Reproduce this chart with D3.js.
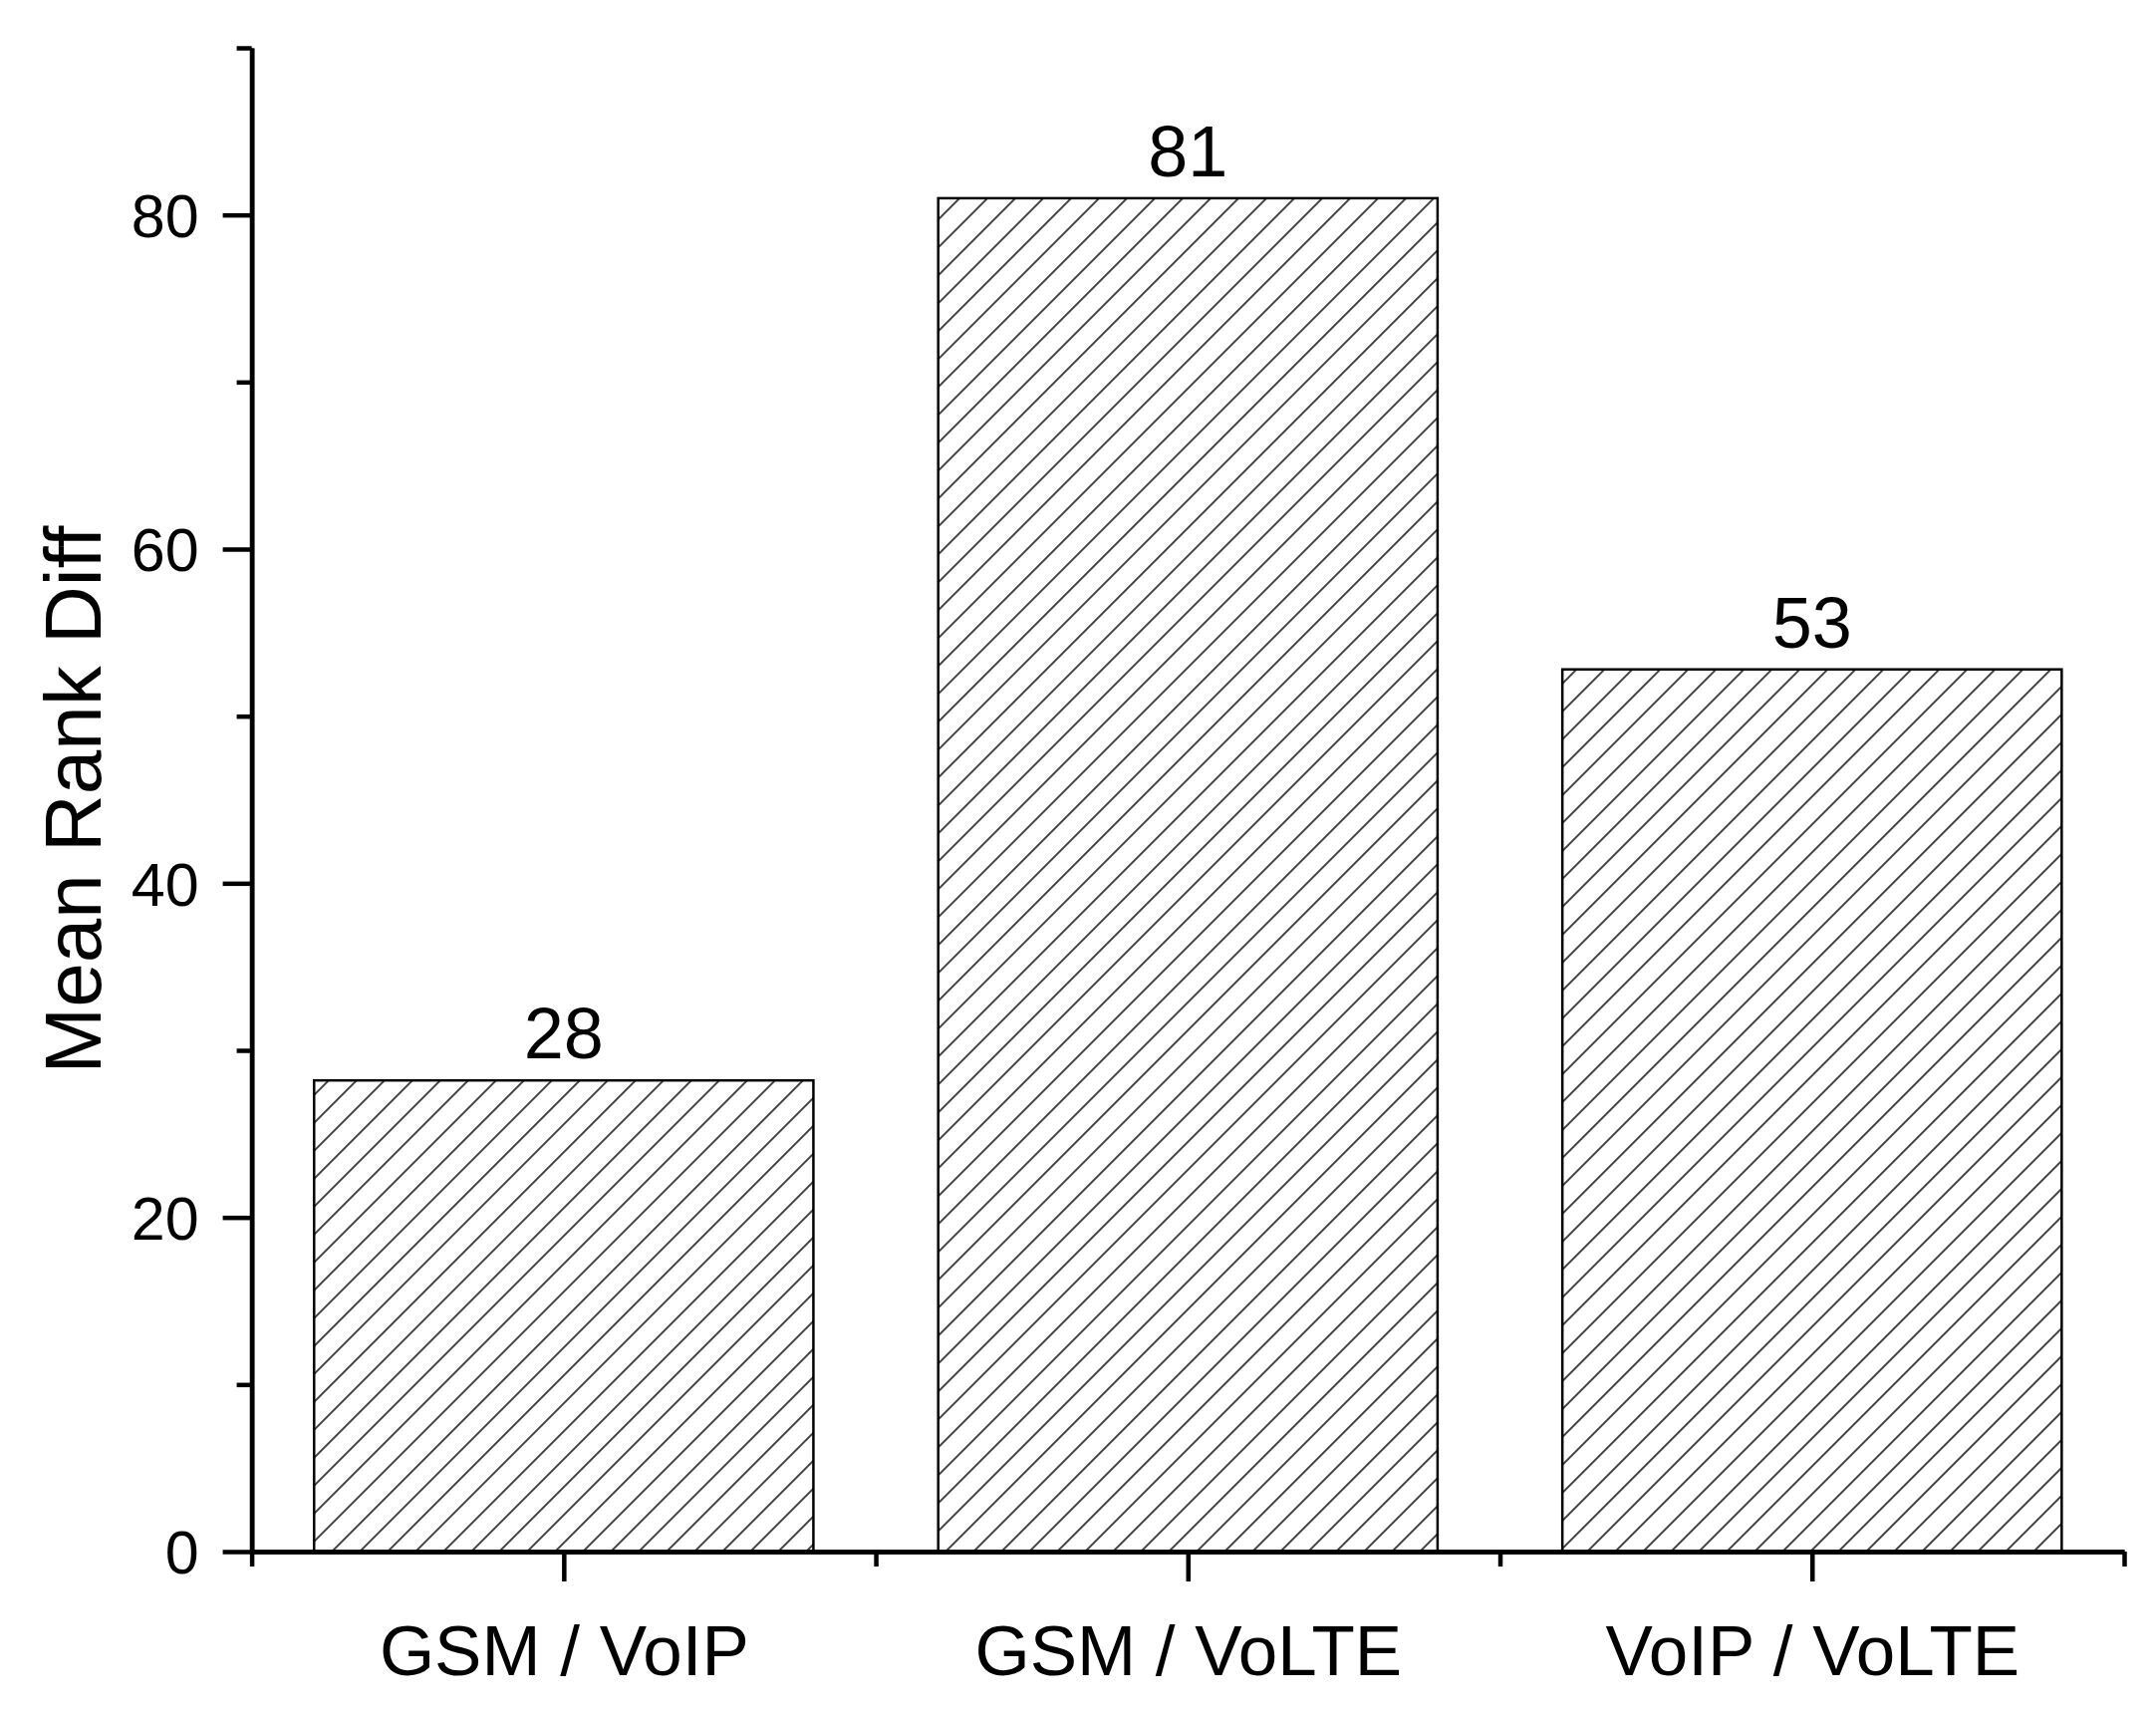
<!DOCTYPE html>
<html>
<head>
<meta charset="utf-8">
<script src="https://d3js.org/d3.v7.min.js"></script>
<style>
  body { margin: 0; background: #fff; }
  text { font-family: "Liberation Sans", Arial, sans-serif; fill: #000; }
</style>
</head>
<body>
<div id="viz"></div>
<script>
// data
var categories = ["GSM / VoIP", "GSM / VoLTE", "VoIP / VoLTE"];
var values = [28.2, 81.0, 52.8];
var valueLabels = ["28", "81", "53"];
var majorTicks = [0, 20, 40, 60, 80];
var minorTicks = [10, 30, 50, 70, 90];

var W = 2164, H = 1720;
var plotLeft = 252.6, plotRight = 2132, plotTop = 48, plotBottom = 1557;

var svg = d3.select("#viz").append("svg")
    .attr("width", W)
    .attr("height", H);

svg.append("rect").attr("width", W).attr("height", H).attr("fill", "#fff");

// hatch pattern
var defs = svg.append("defs");
var pat = defs.append("pattern")
    .attr("id", "hatch")
    .attr("patternUnits", "userSpaceOnUse")
    .attr("width", 19.8)
    .attr("height", 19.8)
    .attr("patternTransform", "rotate(45)");
pat.append("rect").attr("width", 19.8).attr("height", 19.8).attr("fill", "#fff");
pat.append("line")
    .attr("x1", 9.9).attr("x2", 9.9)
    .attr("y1", -1).attr("y2", 21)
    .attr("stroke", "#222")
    .attr("stroke-width", 1.7);

var x = d3.scaleLinear()
    .domain([0.5, 3.5])
    .range([plotLeft, plotRight]);

var y = d3.scaleLinear()
    .domain([0, 90])
    .range([plotBottom, plotTop]);

var barW = 0.8;

// bars
svg.selectAll(".bar")
  .data(values)
  .enter().append("rect")
    .attr("class", "bar")
    .attr("x", function(d, i) { return x(i + 1 - barW / 2); })
    .attr("width", function(d, i) { return x(i + 1 + barW / 2) - x(i + 1 - barW / 2); })
    .attr("y", function(d) { return y(d); })
    .attr("height", function(d) { return y(0) - y(d); })
    .attr("fill", "url(#hatch)")
    .attr("stroke", "#000")
    .attr("stroke-width", 2.5);

// value labels
svg.selectAll(".vlab")
  .data(values)
  .enter().append("text")
    .attr("class", "vlab")
    .attr("x", function(d, i) { return x(i + 1); })
    .attr("y", function(d) { return y(d) - 22; })
    .attr("text-anchor", "middle")
    .style("font-size", "72px")
    .text(function(d, i) { return valueLabels[i]; });

// y axis
var yMajor = svg.append("g")
    .attr("transform", "translate(" + plotLeft + ",0)")
    .call(d3.axisLeft(y).tickValues(majorTicks).tickSize(29).tickSizeOuter(0).tickPadding(24));
var yMinor = svg.append("g")
    .attr("transform", "translate(" + plotLeft + ",0)")
    .call(d3.axisLeft(y).tickValues(minorTicks).tickSize(15).tickSizeOuter(0).tickFormat(""));

// x axis
var xMajor = svg.append("g")
    .attr("transform", "translate(0," + plotBottom + ")")
    .call(d3.axisBottom(x).tickValues([1, 2, 3]).tickSize(30).tickSizeOuter(0)
      .tickFormat(function(d) { return categories[d - 1]; }).tickPadding(44));
var xMinor = svg.append("g")
    .attr("transform", "translate(0," + plotBottom + ")")
    .call(d3.axisBottom(x).tickValues([0.5, 1.5, 2.5, 3.5]).tickSize(15).tickSizeOuter(0).tickFormat(""));

[yMajor, yMinor, xMajor, xMinor].forEach(function(g) {
  g.select(".domain").attr("stroke", "#000").attr("stroke-width", 4.5);
  g.selectAll(".tick line").attr("stroke", "#000").attr("stroke-width", 4.5);
});
yMajor.selectAll(".tick text").style("font-size", "61px").attr("dy", "0.36em")
  .style("font-family", "'Liberation Sans', Arial, sans-serif");
xMajor.selectAll(".tick text").style("font-size", "71px").attr("dy", "0.71em")
  .style("font-family", "'Liberation Sans', Arial, sans-serif");

// y axis title
svg.append("text")
    .attr("transform", "translate(101," + ((plotTop + plotBottom) / 2) + ") rotate(-90)")
    .attr("text-anchor", "middle")
    .style("font-size", "80px")
    .text("Mean Rank Diff");
</script>
</body>
</html>
